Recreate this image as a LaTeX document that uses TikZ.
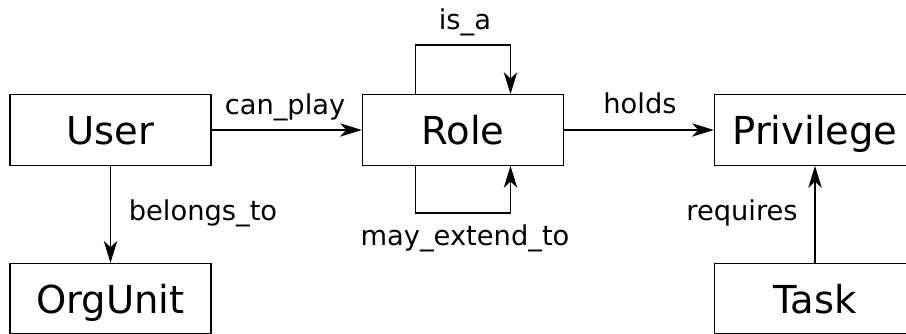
\documentclass[tikz,border=0pt]{standalone}
\usepackage{fontspec}
\setmainfont{DejaVu Sans}
\usetikzlibrary{arrows.meta}
\begin{document}
\begin{tikzpicture}[x=1pt,y=-1pt,
  entity/.style={draw, line width=1.3pt, minimum width=201pt, minimum height=70.5pt,
    inner sep=0pt, text height=36pt, text depth=6pt, font=\fontsize{38.5}{40}\selectfont},
  lbl/.style={anchor=base, inner sep=0pt, font=\fontsize{27.3}{30}\selectfont},
  arr/.style={line width=1.3pt, -{Stealth[length=22pt,width=13.5pt,inset=6.5pt]}},
  ]
\useasboundingbox (0,0) rectangle (906,334);
\clip (0,0) rectangle (906,334);
\node[entity] (user) at (110.5,130) {User};
\node[entity] (role) at (463,130) {Role};
\node[entity] (priv) at (815,130) {Privilege};
\node[entity] (org) at (110.5,298.75) {OrgUnit};
\node[entity] (task) at (815,298.75) {Task};
% connectors
\draw[arr] (user) -- (role);
\draw[arr] (role) -- (priv);
\draw[arr] (user) -- (org);
\draw[arr] (task) -- (priv);
\coordinate (isa1) at (415.5,45);
\coordinate (isa2) at (510.5,45);
\draw[arr] (isa1 |- role.north) -- (isa1) -- (isa2) -- (isa2 |- role.north);
\coordinate (met1) at (415.5,213);
\coordinate (met2) at (510.5,213);
\draw[arr] (met1 |- role.south) -- (met1) -- (met2) -- (met2 |- role.south);
% labels
\node[lbl] (lcan) at (285,115) {can\_play};
\node[lbl] (lholds) at (640,114) {holds};
\node[lbl] (lisa) at (465,30) {is\_a};
\node[lbl] (lmet) at (465,245.5) {may\_extend\_to};
\node[lbl] (lbel) at (203,221) {belongs\_to};
\node[lbl] (lreq) at (742,221) {requires};
\end{tikzpicture}
\end{document}
